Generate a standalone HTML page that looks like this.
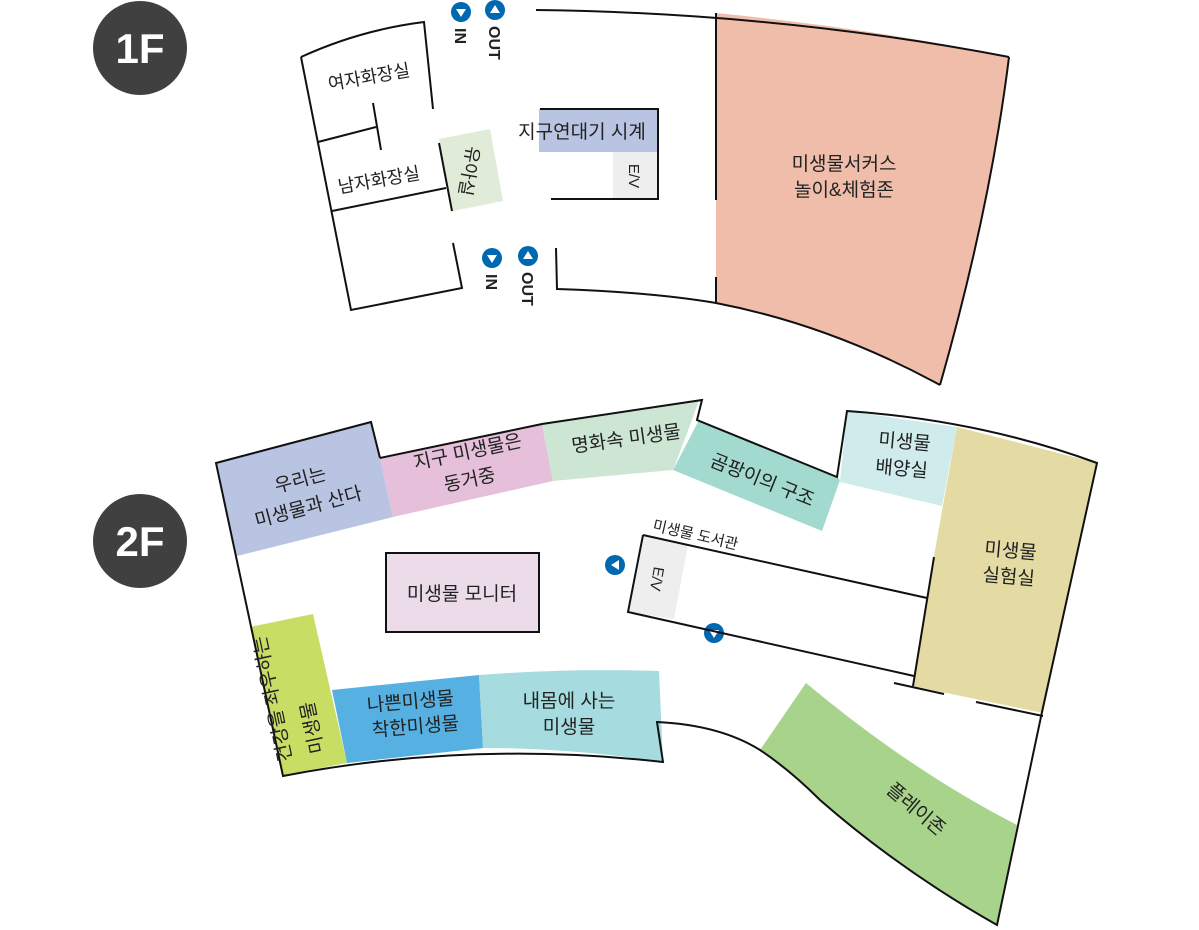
<!DOCTYPE html>
<html><head><meta charset="utf-8"><style>
html,body{margin:0;padding:0;background:#fff}
svg{display:block}
text{font-family:"Liberation Sans","Noto Sans CJK KR",sans-serif;fill:#222}
</style></head><body>
<svg width="1199" height="930" viewBox="0 0 1199 930" xmlns="http://www.w3.org/2000/svg">
<!-- badges -->
<circle cx="140" cy="48" r="47" fill="#404040"/>
<text x="140" y="63" font-size="42" font-weight="bold" text-anchor="middle" style="fill:#fff">1F</text>
<circle cx="140" cy="541" r="47" fill="#404040"/>
<text x="140" y="556" font-size="42" font-weight="bold" text-anchor="middle" style="fill:#fff">2F</text>

<!-- 1F -->
<g stroke="#111" stroke-width="2" fill="none">
<path d="M301,57 Q360,30 424,22 L433,109"/>
<path d="M301,57 L351,310 L462,288 L453,243"/>
<path d="M318,142 L376,127"/>
<path d="M373,103 L381,150"/>
<path d="M332,211 L446,188"/>
</g>
<polygon points="439,139 490,129 503,201 453,211" fill="#e0ecd7"/>
<line x1="439" y1="143" x2="452" y2="211" stroke="#111" stroke-width="2"/>
<path d="M716,13 Q870,28 1009,57 Q990,210 940,385 Q830,325 716,303 Z" fill="#f0bdab"/>
<g stroke="#111" stroke-width="2" fill="none">
<path d="M536,10 Q780,13 1009,57"/>
<path d="M1009,57 Q990,210 940,385"/>
<path d="M716,13 L716,200 M716,277 L716,303"/>
<path d="M556,248 L557,289 Q650,292 716,303 Q830,325 940,385"/>
</g>
<rect x="539" y="109" width="119" height="43" fill="#b9c3e2"/>
<rect x="613" y="152" width="45" height="47" fill="#eeeeee"/>
<path d="M540,109 L658,109 L658,199 L551,199" stroke="#111" stroke-width="2" fill="none"/>
<text x="582" y="138" font-size="19" text-anchor="middle">지구연대기 시계</text>
<text transform="translate(629,176) rotate(90)" font-size="15" text-anchor="middle">E/V</text>
<text transform="translate(370,83) rotate(-10)" font-size="18" text-anchor="middle">여자화장실</text>
<text transform="translate(380,186) rotate(-10)" font-size="18" text-anchor="middle">남자화장실</text>
<text transform="translate(463,170) rotate(100)" font-size="18" text-anchor="middle">유아실</text>
<text transform="translate(844,170)" font-size="19" text-anchor="middle">미생물서커스</text>
<text transform="translate(844,196)" font-size="19" text-anchor="middle">놀이&amp;체험존</text>

<!-- IN/OUT icons -->
<g fill="#0067b1">
<circle cx="461" cy="12" r="10"/><circle cx="495" cy="10" r="10"/>
<circle cx="492" cy="258" r="10"/><circle cx="528" cy="256" r="10"/>
<circle cx="615" cy="565" r="10"/><circle cx="714" cy="633" r="10"/>
</g>
<g fill="#fff">
<polygon points="456,9 466,9 461,17"/>
<polygon points="490,13 500,13 495,5"/>
<polygon points="487,255 497,255 492,263"/>
<polygon points="523,259 533,259 528,251"/>
<polygon points="611,565 619,560 619,570"/>
<polygon points="709,630 719,630 714,638"/>
</g>
<g font-size="16" font-weight="bold">
<text transform="translate(455,28) rotate(90)">IN</text>
<text transform="translate(489,26) rotate(90)">OUT</text>
<text transform="translate(486,274) rotate(90)">IN</text>
<text transform="translate(522,272) rotate(90)">OUT</text>
</g>

<!-- 2F rooms -->
<polygon points="216,463 371,422 380,458 393,517 237,556" fill="#b9c3e2"/>
<polygon points="380,458 542,424 553,481 393,517" fill="#e6c0da"/>
<polygon points="542,424 699,400 692,420 673,470 553,481" fill="#cde6d4"/>
<polygon points="699,420 837,477 840,480 822,531 673,470" fill="#a2dacf"/>
<polygon points="847,411 957,427 942,506 840,482" fill="#d0ebec"/>
<polygon points="957,427 1097,463 1043,713 913,686 934,556" fill="#e3dba3"/>
<path d="M806,683 Q910,770 1017,825 L997,925 Q900,870 820,800 Q790,770 760,750 Z" fill="#a8d38b"/>
<polygon points="250,627 313,614 347,763 283,775" fill="#c8dd63"/>
<polygon points="332,690 479,675 483,748 347,763" fill="#56b0e2"/>
<path d="M479,675 Q570,668 659,671 L663,762 Q570,748 483,748 Z" fill="#a6dbe0"/>
<polygon points="643,535 688,545 674,619 628,612" fill="#eeeeee"/>
<rect x="386" y="553" width="153" height="79" fill="#ecdcea" stroke="#111" stroke-width="2"/>

<g stroke="#111" stroke-width="2" fill="none">
<path d="M380,458 L371,422 L216,463 L283,776 Q470,740 663,762 L657,722 Q720,725 760,750 Q790,770 820,800 Q900,870 997,925 L1042,712 L1097,463 Q980,420 847,411 L837,477 L697,420 L702,400 L542,424 L380,458"/>
<path d="M643,535 L927,598"/>
<path d="M643,535 L628,612 L914,676"/>
<path d="M934,557 L913,686"/>
<path d="M894,683 L944,694 M976,702 L1043,716"/>
</g>

<!-- 2F labels -->
<g font-size="19" text-anchor="middle">
<text transform="translate(302,486) rotate(-15)">우리는</text>
<text transform="translate(310,513) rotate(-15)">미생물과 산다</text>
<text transform="translate(469,458) rotate(-12)">지구 미생물은</text>
<text transform="translate(471,486) rotate(-12)">동거중</text>
<text transform="translate(627,445) rotate(-8)">명화속 미생물</text>
<text transform="translate(760,486) rotate(22)">곰팡이의 구조</text>
<text transform="translate(904,448) rotate(5)">미생물</text>
<text transform="translate(901,475) rotate(5)">배양실</text>
<text transform="translate(1010,557) rotate(5)">미생물</text>
<text transform="translate(1008,583) rotate(5)">실험실</text>
<text transform="translate(912,814) rotate(40)">플레이존</text>
<text transform="translate(411,708) rotate(-5)">나쁜미생물</text>
<text transform="translate(416,733) rotate(-5)">착한미생물</text>
<text x="569" y="707">내몸에 사는</text>
<text x="569" y="733">미생물</text>
<text x="462" y="600">미생물 모니터</text>
</g>
<text transform="translate(652,530) rotate(13)" font-size="15">미생물 도서관</text>
<text transform="translate(652,578) rotate(100)" font-size="15" text-anchor="middle">E/V</text>
<text transform="translate(292,760) rotate(-102)" font-size="19">건강을 좌우하는</text>
<text transform="translate(324,752) rotate(-102)" font-size="19">미생물</text>
</svg>
</body></html>
